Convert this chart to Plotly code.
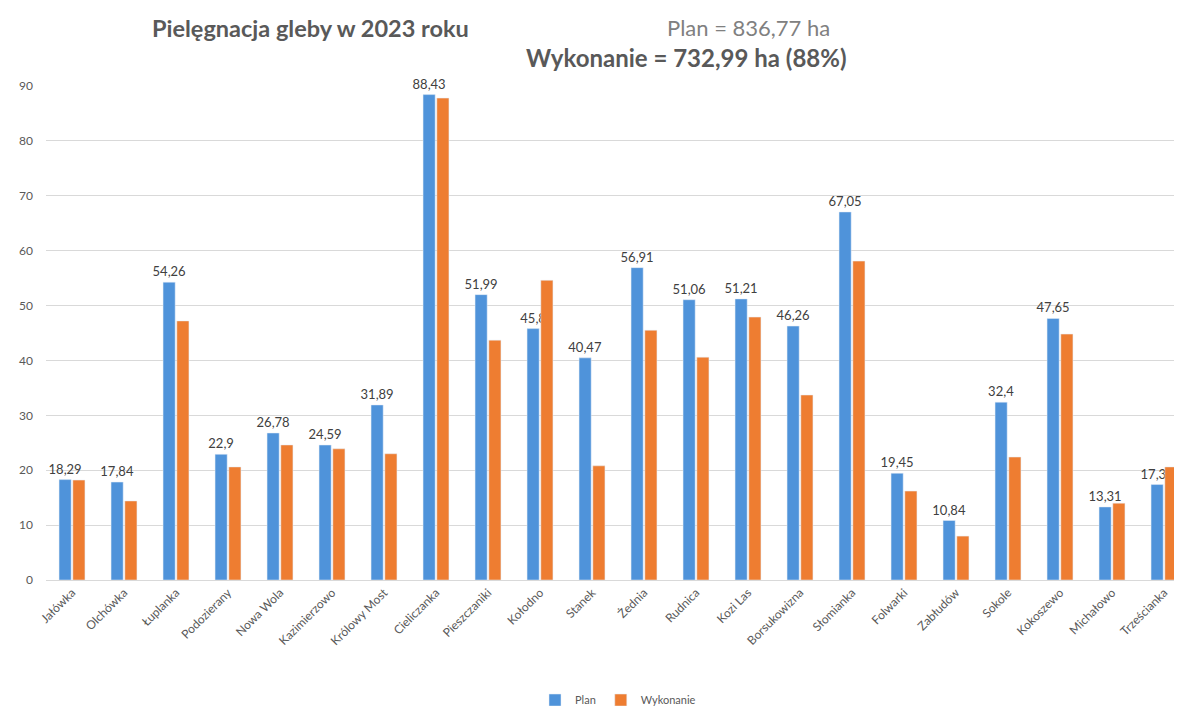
import plotly.graph_objects as go

categories = ["Jałówka", "Olchówka", "Łuplanka", "Podozierany", "Nowa Wola", "Kazimierzowo",
              "Królowy Most", "Cieliczanka", "Pieszczaniki", "Kołodno", "Stanek", "Żednia",
              "Rudnica", "Kozi Las", "Borsukowizna", "Słomianka", "Folwarki", "Zabłudów",
              "Sokole", "Kokoszewo", "Michałowo", "Trześcianka"]
plan = [18.29, 17.84, 54.26, 22.9, 26.78, 24.59, 31.89, 88.43, 51.99, 45.8, 40.47, 56.91,
        51.06, 51.21, 46.26, 67.05, 19.45, 10.84, 32.4, 47.65, 13.31, 17.39]
wykonanie = [18.2, 14.4, 47.2, 20.6, 24.6, 23.9, 23.0, 87.8, 43.7, 54.6, 20.8, 45.5,
             40.6, 47.9, 33.7, 58.1, 16.2, 8.0, 22.4, 44.8, 14.0, 20.6]
y_ticks = [0, 10, 20, 30, 40, 50, 60, 70, 80, 90]

FONT = "Lato"
BLUE = "#4F93DA"
ORANGE = "#EE7D31"

plan_text = [f"{v:g}".replace(".", ",") for v in plan]

fig = go.Figure()
fig.add_trace(go.Bar(
    x=categories, y=plan, name="Plan", marker_color=BLUE,
    text=plan_text, textposition="outside", textangle=0, constraintext="none",
    textfont=dict(family=FONT, size=13, color="#404040"), cliponaxis=False,
))
fig.add_trace(go.Bar(
    x=categories, y=wykonanie, name="Wykonanie", marker_color=ORANGE,
))

fig.update_layout(
    width=1182, height=706,
    margin=dict(l=38, r=0, t=78, b=134, autoexpand=False),
    paper_bgcolor="white", plot_bgcolor="white",
    barmode="group", bargap=0.47, bargroupgap=0.12,
    font=dict(family=FONT, color="#595959"),
    showlegend=True,
    legend=dict(orientation="h", x=0.5, xanchor="center", y=-0.243, yanchor="middle",
                font=dict(family=FONT, size=11, color="#595959"), itemwidth=30),
    annotations=[
        dict(text="<b>Pielęgnacja gleby w 2023 roku</b>", xref="paper", yref="paper",
             x=0.2316, y=1.117, xanchor="center", yanchor="middle", showarrow=False,
             font=dict(family=FONT, size=23.5, color="#595959")),
        dict(text="Plan = 836,77 ha", xref="paper", yref="paper",
             x=0.687, y=1.119, xanchor="right", yanchor="middle", showarrow=False,
             font=dict(family=FONT, size=22, color="#808080")),
        dict(text="<b>Wykonanie = 732,99 ha (88%)</b>", xref="paper", yref="paper",
             x=0.701, y=1.057, xanchor="right", yanchor="middle", showarrow=False,
             font=dict(family=FONT, size=24, color="#595959")),
    ],
)
fig.update_xaxes(tickangle=-45, tickfont=dict(family=FONT, size=12, color="#595959"),
                 showgrid=False, showline=True, linecolor="#d9d9d9", ticks="")
fig.update_yaxes(range=[0, 90], tickvals=y_ticks, showgrid=True, gridcolor="#d9d9d9",
                 zeroline=False, showline=False, ticklabelstandoff=12,
                 tickfont=dict(family=FONT, size=12, color="#595959"))

fig.write_html("out.html")
